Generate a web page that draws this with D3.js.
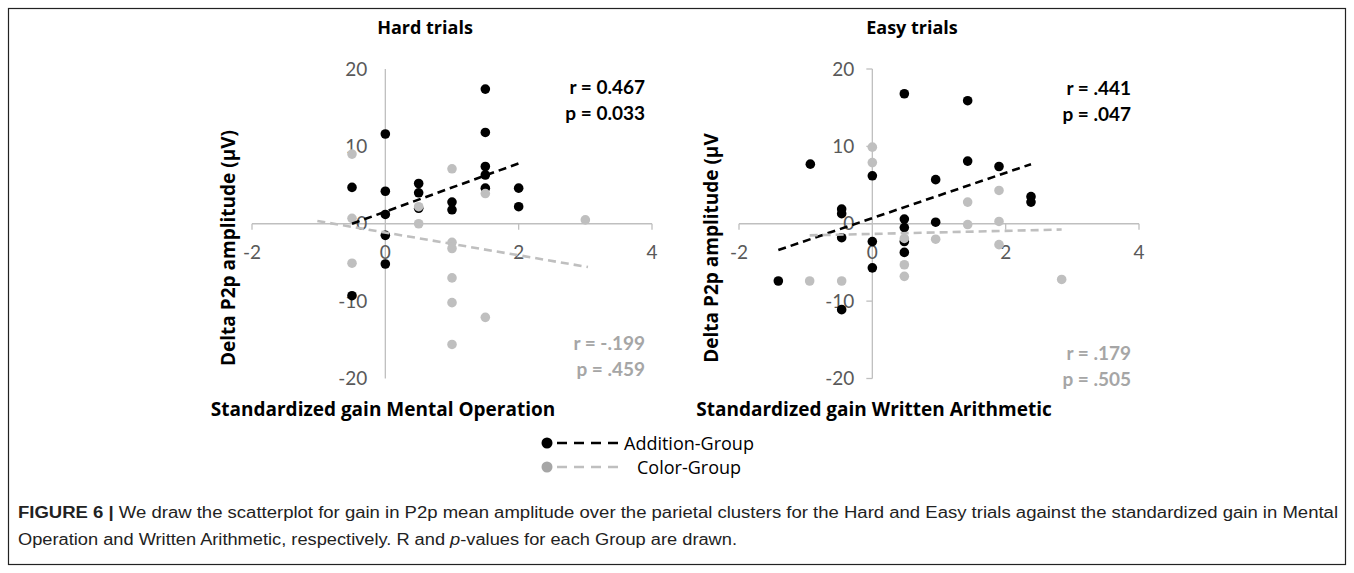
<!DOCTYPE html>
<html>
<head>
<meta charset="utf-8">
<script src="https://cdn.jsdelivr.net/npm/d3@7"></script>
<style>
body {margin:0; background:#fff;}
svg {display:block; font-family:Lato, "Open Sans", sans-serif;}
.words {font-family:"Open Sans", Lato, sans-serif;}
</style>
</head>
<body>
<svg id="figure"></svg>
<script>
//x ticks and y ticks shared by both panels
var xTicks = [-2, 0, 2, 4];
var yTicks = [-20, -10, 0, 10, 20];

//Hard trials - Addition group (black)
var hardAddX = [-0.5, -0.5, 0, 0, 0, 0, 0, 0.5, 0.5, 0.5, 1, 1, 1.5, 1.5, 1.5, 1.5, 1.5, 2, 2];
var hardAddY = [4.7, -9.3, 11.6, 4.2, 1.2, -1.5, -5.2, 5.2, 4.0, 2.0, 2.8, 1.8, 17.4, 11.8, 7.4, 6.3, 4.6, 4.6, 2.2];

//Hard trials - Color group (gray)
var hardColX = [-0.5, -0.5, -0.5, 0.5, 0.5, 1, 1, 1, 1, 1, 1, 1.5, 1.5, 3];
var hardColY = [9.0, 0.7, -5.1, 2.2, 0, 7.1, -2.4, -3.2, -7.0, -10.2, -15.6, 3.9, -12.1, 0.5];

//Easy trials - Addition group (black)
var easyAddX = [-1.41, -0.93, -0.46, -0.46, -0.46, -0.46, 0, 0, 0, 0.48, 0.48, 0.48, 0.48, 0.48, 0.95, 0.95, 1.43, 1.43, 1.9, 2.38, 2.38];
var easyAddY = [-7.4, 7.7, 1.9, 1.3, -1.8, -11.1, 6.2, -2.3, -5.7, 16.8, 0.6, -0.5, -2.3, -3.7, 5.7, 0.2, 15.9, 8.1, 7.4, 3.5, 2.8];

//Easy trials - Color group (gray)
var easyColX = [-0.94, -0.46, 0, 0, 0.48, 0.48, 0.48, 0.95, 1.43, 1.43, 1.9, 1.9, 1.9, 2.84];
var easyColY = [-7.4, -7.4, 9.9, 7.9, -1.9, -5.3, -6.8, -2.0, 2.8, -0.1, 4.3, 0.3, -2.7, -7.2];

//trend line end points
var hardAddLineX = [-0.5, 2.0];
var hardAddLineY = [0.0, 7.8];
var hardColLineX = [-1.02, 3.04];
var hardColLineY = [0.36, -5.6];
var easyAddLineX = [-1.41, 2.38];
var easyAddLineY = [-3.4, 7.7];
var easyColLineX = [-0.94, 2.84];
var easyColLineY = [-1.5, -0.75];

//stat labels
var hardAddStats = ["r = 0.467", "p = 0.033"];
var hardColStats = ["r = -.199", "p = .459"];
var easyAddStats = ["r = .441", "p = .047"];
var easyColStats = ["r = .179", "p = .505"];

var legendLabels = ["Addition-Group", "Color-Group"];

var black = "#000000";
var gray = "#bfbfbf";
var grayText = "#a6a6a6";
var axisColor = "#bfbfbf";
var tickColor = "#595959";

var screen = {width:1354, height:573};

var svg = d3.select("#figure")
    .attr("width", screen.width)
    .attr("height", screen.height);

//pairs two arrays into points
var zipPoints = function(xs, ys)
{
    return xs.map(function(x, i)
    {
        return {x:x, y:ys[i]};
    });
}

//draws one panel
var drawPanel = function(p)
{
    var xScale = d3.scaleLinear()
        .domain([-2, 4])
        .range([p.left, p.left + 400]);
    var yScale = d3.scaleLinear()
        .domain([-20, 20])
        .range([378.5, 69]);

    var g = svg.append("g");

    //horizontal axis at y = 0
    g.append("line")
        .attr("x1", xScale(-2)).attr("x2", xScale(4))
        .attr("y1", yScale(0)).attr("y2", yScale(0))
        .attr("stroke", axisColor).attr("stroke-width", 1.3);

    g.selectAll(".xtick")
        .data(xTicks.filter(function(t){return t != 0;}))
        .enter()
        .append("line")
        .attr("x1", function(t){return xScale(t);})
        .attr("x2", function(t){return xScale(t);})
        .attr("y1", yScale(0))
        .attr("y2", yScale(0) + 6)
        .attr("stroke", axisColor).attr("stroke-width", 1.3);

    //vertical axis at x = 0
    g.append("line")
        .attr("x1", xScale(0)).attr("x2", xScale(0))
        .attr("y1", yScale(20)).attr("y2", yScale(-20))
        .attr("stroke", axisColor).attr("stroke-width", 1.3);

    if (p.yTickMarks)
    {
        g.selectAll(".ytick")
            .data(yTicks)
            .enter()
            .append("line")
            .attr("x1", xScale(0) - 6)
            .attr("x2", xScale(0))
            .attr("y1", function(t){return yScale(t);})
            .attr("y2", function(t){return yScale(t);})
            .attr("stroke", axisColor).attr("stroke-width", 1.3);
    }

    //tick labels
    g.selectAll(".xlab")
        .data(xTicks)
        .enter()
        .append("text")
        .attr("x", function(t){return xScale(t);})
        .attr("y", yScale(0) + 35)
        .attr("text-anchor", "middle")
        .attr("font-size", 19)
        .attr("fill", tickColor)
        .text(function(t){return t;});

    g.selectAll(".ylab")
        .data(yTicks)
        .enter()
        .append("text")
        .attr("x", xScale(0) - 18)
        .attr("y", function(t){return yScale(t) + 6.5;})
        .attr("text-anchor", "end")
        .attr("font-size", 19)
        .attr("fill", tickColor)
        .text(function(t){return t;});

    //points: black group first, gray on top
    g.selectAll(".addpt")
        .data(zipPoints(p.addX, p.addY))
        .enter()
        .append("circle")
        .attr("cx", function(d){return xScale(d.x);})
        .attr("cy", function(d){return yScale(d.y);})
        .attr("r", 4.8)
        .attr("fill", black);

    g.selectAll(".colpt")
        .data(zipPoints(p.colX, p.colY))
        .enter()
        .append("circle")
        .attr("cx", function(d){return xScale(d.x);})
        .attr("cy", function(d){return yScale(d.y);})
        .attr("r", 4.8)
        .attr("fill", gray);

    //trend lines
    var line = d3.line()
        .x(function(d){return xScale(d.x);})
        .y(function(d){return yScale(d.y);});

    g.append("path")
        .attr("d", line(zipPoints(p.addLineX, p.addLineY)))
        .attr("fill", "none")
        .attr("stroke", black)
        .attr("stroke-width", 2.6)
        .attr("stroke-dasharray", "8,5");

    g.append("path")
        .attr("d", line(zipPoints(p.colLineX, p.colLineY)))
        .attr("fill", "none")
        .attr("stroke", gray)
        .attr("stroke-width", 2.6)
        .attr("stroke-dasharray", "8,5");

    //titles
    g.append("text")
        .classed("words", true)
        .attr("x", p.titleX).attr("y", 34)
        .attr("text-anchor", "middle")
        .attr("font-size", 18).attr("font-weight", "bold")
        .text(p.title);

    g.append("text")
        .classed("words", true)
        .attr("transform", "translate(" + p.yTitleX + ",248) rotate(-90)")
        .attr("text-anchor", "middle")
        .attr("font-size", 19).attr("font-weight", "bold")
        .text(p.yTitle);

    g.append("text")
        .classed("words", true)
        .attr("x", p.xTitleX).attr("y", 416)
        .attr("text-anchor", "middle")
        .attr("font-size", 19).attr("font-weight", "bold")
        .text(p.xTitle);

    //stats
    g.selectAll(".addstat")
        .data(p.addStats)
        .enter()
        .append("text")
        .attr("x", p.statX)
        .attr("y", function(d, i){return p.addStatY + i * 26;})
        .attr("text-anchor", "end")
        .attr("font-size", 19).attr("font-weight", "bold")
        .attr("fill", black)
        .text(function(d){return d;});

    g.selectAll(".colstat")
        .data(p.colStats)
        .enter()
        .append("text")
        .attr("x", p.statX)
        .attr("y", function(d, i){return p.colStatY + i * 26;})
        .attr("text-anchor", "end")
        .attr("font-size", 19).attr("font-weight", "bold")
        .attr("fill", grayText)
        .text(function(d){return d;});
}

//frame around the figure
svg.append("rect")
    .attr("x", 8.5).attr("y", 8.5)
    .attr("width", 1337).attr("height", 556)
    .attr("fill", "none")
    .attr("stroke", "#222")
    .attr("stroke-width", 1.2);

drawPanel({
    left:252, yTickMarks:false,
    addX:hardAddX, addY:hardAddY, colX:hardColX, colY:hardColY,
    addLineX:hardAddLineX, addLineY:hardAddLineY,
    colLineX:hardColLineX, colLineY:hardColLineY,
    title:"Hard trials", titleX:425,
    yTitle:"Delta P2p amplitude (\u00b5V)", yTitleX:235,
    xTitle:"Standardized gain Mental Operation", xTitleX:383,
    addStats:hardAddStats, colStats:hardColStats,
    statX:645, addStatY:94, colStatY:350
});

drawPanel({
    left:739, yTickMarks:true,
    addX:easyAddX, addY:easyAddY, colX:easyColX, colY:easyColY,
    addLineX:easyAddLineX, addLineY:easyAddLineY,
    colLineX:easyColLineX, colLineY:easyColLineY,
    title:"Easy trials", titleX:912,
    yTitle:"Delta P2p amplitude (\u00b5V", yTitleX:718,
    xTitle:"Standardized gain Written Arithmetic", xTitleX:874,
    addStats:easyAddStats, colStats:easyColStats,
    statX:1131, addStatY:95, colStatY:360
});

//legend
var legend = svg.append("g");
var legendColors = [black, gray];
var legendTextX = [624, 637];

legendLabels.forEach(function(label, i)
{
    var y = 443 + i * 24;
    legend.append("circle")
        .attr("cx", 547).attr("cy", y).attr("r", 5.5)
        .attr("fill", i == 0 ? black : "#a6a6a6");
    legend.append("line")
        .attr("x1", 557).attr("x2", 619)
        .attr("y1", y).attr("y2", y)
        .attr("stroke", legendColors[i])
        .attr("stroke-width", 2.6)
        .attr("stroke-dasharray", "10,7");
    legend.append("text")
        .classed("words", true)
        .attr("x", legendTextX[i]).attr("y", y + 6.5)
        .attr("font-size", 18)
        .text(label);
});

//caption
var cap1 = svg.append("text")
    .attr("x", 18).attr("y", 518)
    .attr("font-family", "'Liberation Sans Narrow', 'Liberation Sans', Arial, sans-serif")
    .attr("font-size", 16)
    .attr("fill", "#222")
    .attr("textLength", 1320)
    .attr("lengthAdjust", "spacingAndGlyphs");
cap1.append("tspan").attr("font-weight", "bold").text("FIGURE 6 | ");
cap1.append("tspan").text("We draw the scatterplot for gain in P2p mean amplitude over the parietal clusters for the Hard and Easy trials against the standardized gain in Mental");

var cap2 = svg.append("text")
    .attr("x", 18).attr("y", 545)
    .attr("font-family", "'Liberation Sans Narrow', 'Liberation Sans', Arial, sans-serif")
    .attr("font-size", 16)
    .attr("fill", "#222")
    .attr("textLength", 719)
    .attr("lengthAdjust", "spacingAndGlyphs");
cap2.append("tspan").text("Operation and Written Arithmetic, respectively. R and ");
cap2.append("tspan").attr("font-style", "italic").text("p");
cap2.append("tspan").text("-values for each Group are drawn.");
</script>
</body>
</html>
